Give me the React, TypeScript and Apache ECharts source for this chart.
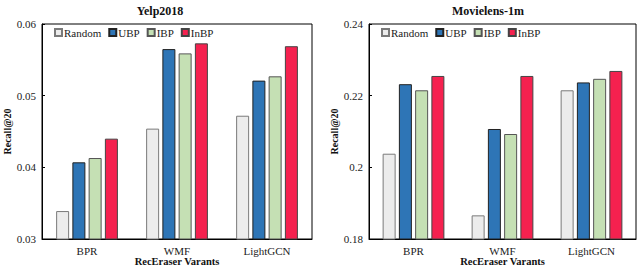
import React, { useEffect, useRef } from "react";
import * as echarts from "echarts";

const categories = ["BPR", "WMF", "LightGCN"];
const seriesNames = ["Random", "UBP", "IBP", "InBP"];
const colors = ["#ececec", "#2e75b6", "#c5e0b4", "#f5214f"];
const borders = ["#7a7a7a", "#222222", "#555555", "#444444"];

const yelpRandom = [0.0339, 0.0454, 0.0472];
const yelpUBP = [0.0407, 0.0565, 0.0521];
const yelpIBP = [0.0413, 0.0559, 0.0527];
const yelpInBP = [0.044, 0.0573, 0.0569];

const mlRandom = [0.2038, 0.1866, 0.2215];
const mlUBP = [0.2232, 0.2107, 0.2237];
const mlIBP = [0.2215, 0.2093, 0.2247];
const mlInBP = [0.2255, 0.2255, 0.2269];

const yelpTicks = { min: 0.03, max: 0.06, interval: 0.01 };
const mlTicks = { min: 0.18, max: 0.24, interval: 0.02 };

const FONT = "'Liberation Serif', 'Times New Roman', 'DejaVu Serif', serif";

export default function App() {
  const ref = useRef<HTMLDivElement>(null);
  useEffect(() => {
    if (!ref.current) return;
    const chart = echarts.init(ref.current, undefined, { renderer: "svg", width: 640, height: 266 });
    const yelp = [yelpRandom, yelpUBP, yelpIBP, yelpInBP];
    const ml = [mlRandom, mlUBP, mlIBP, mlInBP];
    const mkX = (gi: number) => ({
      type: "category",
      gridIndex: gi,
      data: categories,
      axisTick: { show: false },
      axisLine: { lineStyle: { color: "#000", width: 1 } },
      axisLabel: { fontFamily: FONT, fontSize: 11, color: "#222", margin: 6 },
      name: "RecEraser Varants",
      nameLocation: "middle",
      nameGap: 17,
      nameMoveOverlap: false,
      nameTextStyle: { fontFamily: FONT, fontSize: 10.5, fontWeight: "bold", color: "#111" },
    });
    const mkY = (gi: number, t: any) => ({
      type: "value",
      gridIndex: gi,
      min: t.min,
      max: t.max,
      interval: t.interval,
      splitLine: { show: false },
      axisLine: { show: true, lineStyle: { color: "#000", width: 1 } },
      axisTick: { show: true, inside: true, length: 3, lineStyle: { color: "#000" } },
      axisLabel: {
        fontFamily: FONT,
        fontSize: 11,
        color: "#222",
        margin: 6,
        formatter: (v: number) => String(parseFloat(v.toFixed(4))),
      },
      name: "Recall@20",
      nameLocation: "middle",
      nameGap: 30,
      nameMoveOverlap: false,
      nameTextStyle: { fontFamily: FONT, fontSize: 10, fontWeight: "bold", color: "#111" },
    });
    const mkLegend = (left: number) => ({
      left,
      top: 22,
      itemWidth: 7,
      itemHeight: 7,
      itemGap: 7,
      icon: "rect",
      textStyle: { fontFamily: FONT, fontSize: 11, color: "#222", padding: [0, 0, 0, -3] },
      data: seriesNames,
    });
    const series: any[] = [];
    [yelp, ml].forEach((ds, gi) => {
      ds.forEach((vals, i) => {
        series.push({
          name: seriesNames[i],
          type: "bar",
          xAxisIndex: gi,
          yAxisIndex: gi,
          data: vals,
          barWidth: 13,
          barGap: "25%",
          itemStyle: { color: colors[i], borderColor: borders[i], borderWidth: 1 },
        });
      });
    });
    chart.setOption({
      animation: false,
      backgroundColor: "#fff",
      title: [
        {
          text: "Yelp2018",
          left: 155,
          top: 0,
          textAlign: "center",
          textStyle: { fontFamily: FONT, fontSize: 12, fontWeight: "bold", color: "#111" },
        },
        {
          text: "Movielens-1m",
          left: 483,
          top: 0,
          textAlign: "center",
          textStyle: { fontFamily: FONT, fontSize: 12, fontWeight: "bold", color: "#111" },
        },
      ],
      legend: [mkLegend(49), mkLegend(376)],
      grid: [
        { left: 42, right: 328, top: 24, bottom: 27, show: true, borderColor: "#000", borderWidth: 1, outerBoundsMode: "none", containLabel: false },
        { left: 369, right: 4, top: 24, bottom: 27, show: true, borderColor: "#000", borderWidth: 1, outerBoundsMode: "none", containLabel: false },
      ],
      xAxis: [mkX(0), mkX(1)],
      yAxis: [mkY(0, yelpTicks), mkY(1, mlTicks)],
      series,
    });
    return () => chart.dispose();
  }, []);
  return <div ref={ref} style={{ width: 640, height: 266, position: "fixed", left: 0, top: 0 }} />;
}
